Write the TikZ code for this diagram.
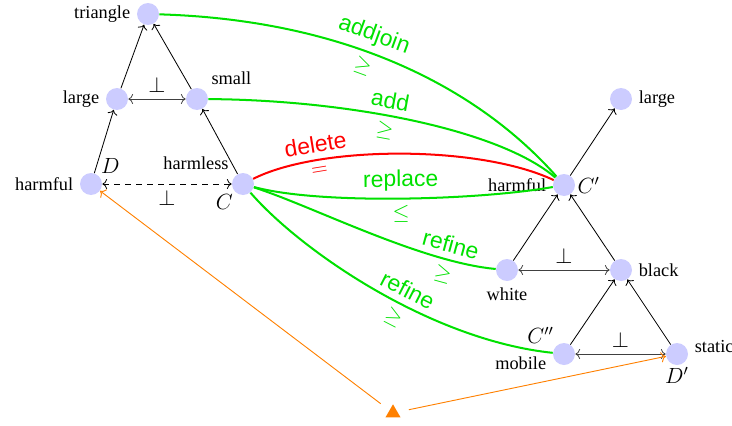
\documentclass[tikz,border=0pt]{standalone}
\usepackage{fontspec}
\setmainfont{Liberation Serif}
\setsansfont{Liberation Sans}
\usetikzlibrary{arrows.meta,shapes.geometric}
\definecolor{opgreen}{RGB}{0,225,0}
\definecolor{srcorange}{RGB}{255,128,0}
\tikzset{
concept/.style={circle, fill=blue!20, minimum size=12pt, inner sep=0pt},
isa/.style={->, line width=0.45pt},
disjoint/.style={<->, line width=0.45pt, black!75},
oplink/.style={line width=1.1pt, draw=opgreen},
oplabel/.style={font=\sffamily\fontsize{12.5}{14}\selectfont, text=opgreen, sloped, above},
oprel/.style={font=\fontsize{12.5}{14}\selectfont, text=opgreen, sloped, below},
srcarrow/.style={->, draw=srcorange, line width=0.5pt},
mathlab/.style={font=\large, inner sep=1pt}
}

\begin{document}
\begin{tikzpicture}[x=0.546pt,y=-0.546pt]
\useasboundingbox (0,0) rectangle (732,425);

% source concept
\node[concept, label=left:triangle] (tri) at (148,14) {};
\node[concept, label=left:large] (lgL) at (117,99) {};
\node[concept, label=above right:small] (sm) at (197,99) {};
\node[concept, label=left:harmful, label={[mathlab]above right:$D$}] (D) at (91,184) {};
\node[concept, label=above left:harmless, label={[mathlab]below left:$C$}] (C) at (243,184) {};

% target concepts
\node[concept, label=right:large] (lgR) at (621,99) {};
\node[concept, label=left:harmful, label={[mathlab]right:$C'$}] (Cp) at (564,185) {};
\node[concept, label=below:white] (wh) at (507,270) {};
\node[concept, label=right:black] (bl) at (621,270) {};
\node[concept, label={[yshift=-5pt]left:mobile}, label={[mathlab]above left:$C''$}] (Cpp) at (564,354) {};
\node[concept, label={[yshift=4pt]right:static}, label={[mathlab]below:$D'$}] (Dp) at (677,354) {};

\node[regular polygon, regular polygon sides=3, fill=srcorange, minimum size=9.5pt, inner sep=0pt, outer sep=6pt] (src) at (393,413) {};

\draw[isa] (lgL) -- (tri);
\draw[isa] (sm) -- (tri);
\draw[isa] (D) -- (lgL);
\draw[isa] (C) -- (sm);
\draw[disjoint] (lgL) -- node[above, font=\large, black] {$\perp$} (sm);
\draw[disjoint, black, dashed] (D) -- node[below, font=\large] {$\perp$} (C);

\draw[isa] (Cp) -- (lgR);
\draw[isa] (wh) -- (Cp);
\draw[isa] (bl) -- (Cp);
\draw[disjoint] (wh) -- node[above, font=\large, black] {$\perp$} (bl);
\draw[isa] (Cpp) -- (bl);
\draw[isa] (Dp) -- (bl);
\draw[disjoint] (Cpp) -- node[above, font=\large, black] {$\perp$} (Dp);

\draw[oplink] (tri) .. controls (350,20) and (480,90) .. (Cp)
  node[oplabel, pos=0.42] {addjoin} node[oprel, pos=0.42] {$\geq$};
\draw[oplink] (sm) .. controls (350,100) and (500,130) .. (Cp)
  node[oplabel, pos=0.43] {add} node[oprel, pos=0.43] {$\geq$};
\draw[oplink, draw=red] (C) .. controls (320,145) and (480,145) .. (Cp)
  node[oplabel, text=red, pos=0.25] {delete} node[oprel, text=red, pos=0.25] {$=$};
\draw[oplink] (C) .. controls (320,205) and (480,200) .. (Cp)
  node[oplabel, pos=0.5] {replace} node[oprel, pos=0.5] {$\leq$};
\draw[oplink] (C) .. controls (310,205) and (420,262) .. (wh)
  node[oplabel, pos=0.8] {refine} node[oprel, pos=0.8] {$\geq$};
\draw[oplink] (C) .. controls (300,250) and (430,340) .. (Cpp)
  node[oplabel, pos=0.58] {refine} node[oprel, pos=0.58] {$\geq$};

\draw[srcarrow] (src) -- (D);
\draw[srcarrow] (src) -- (Dp);
\end{tikzpicture}
\end{document}
